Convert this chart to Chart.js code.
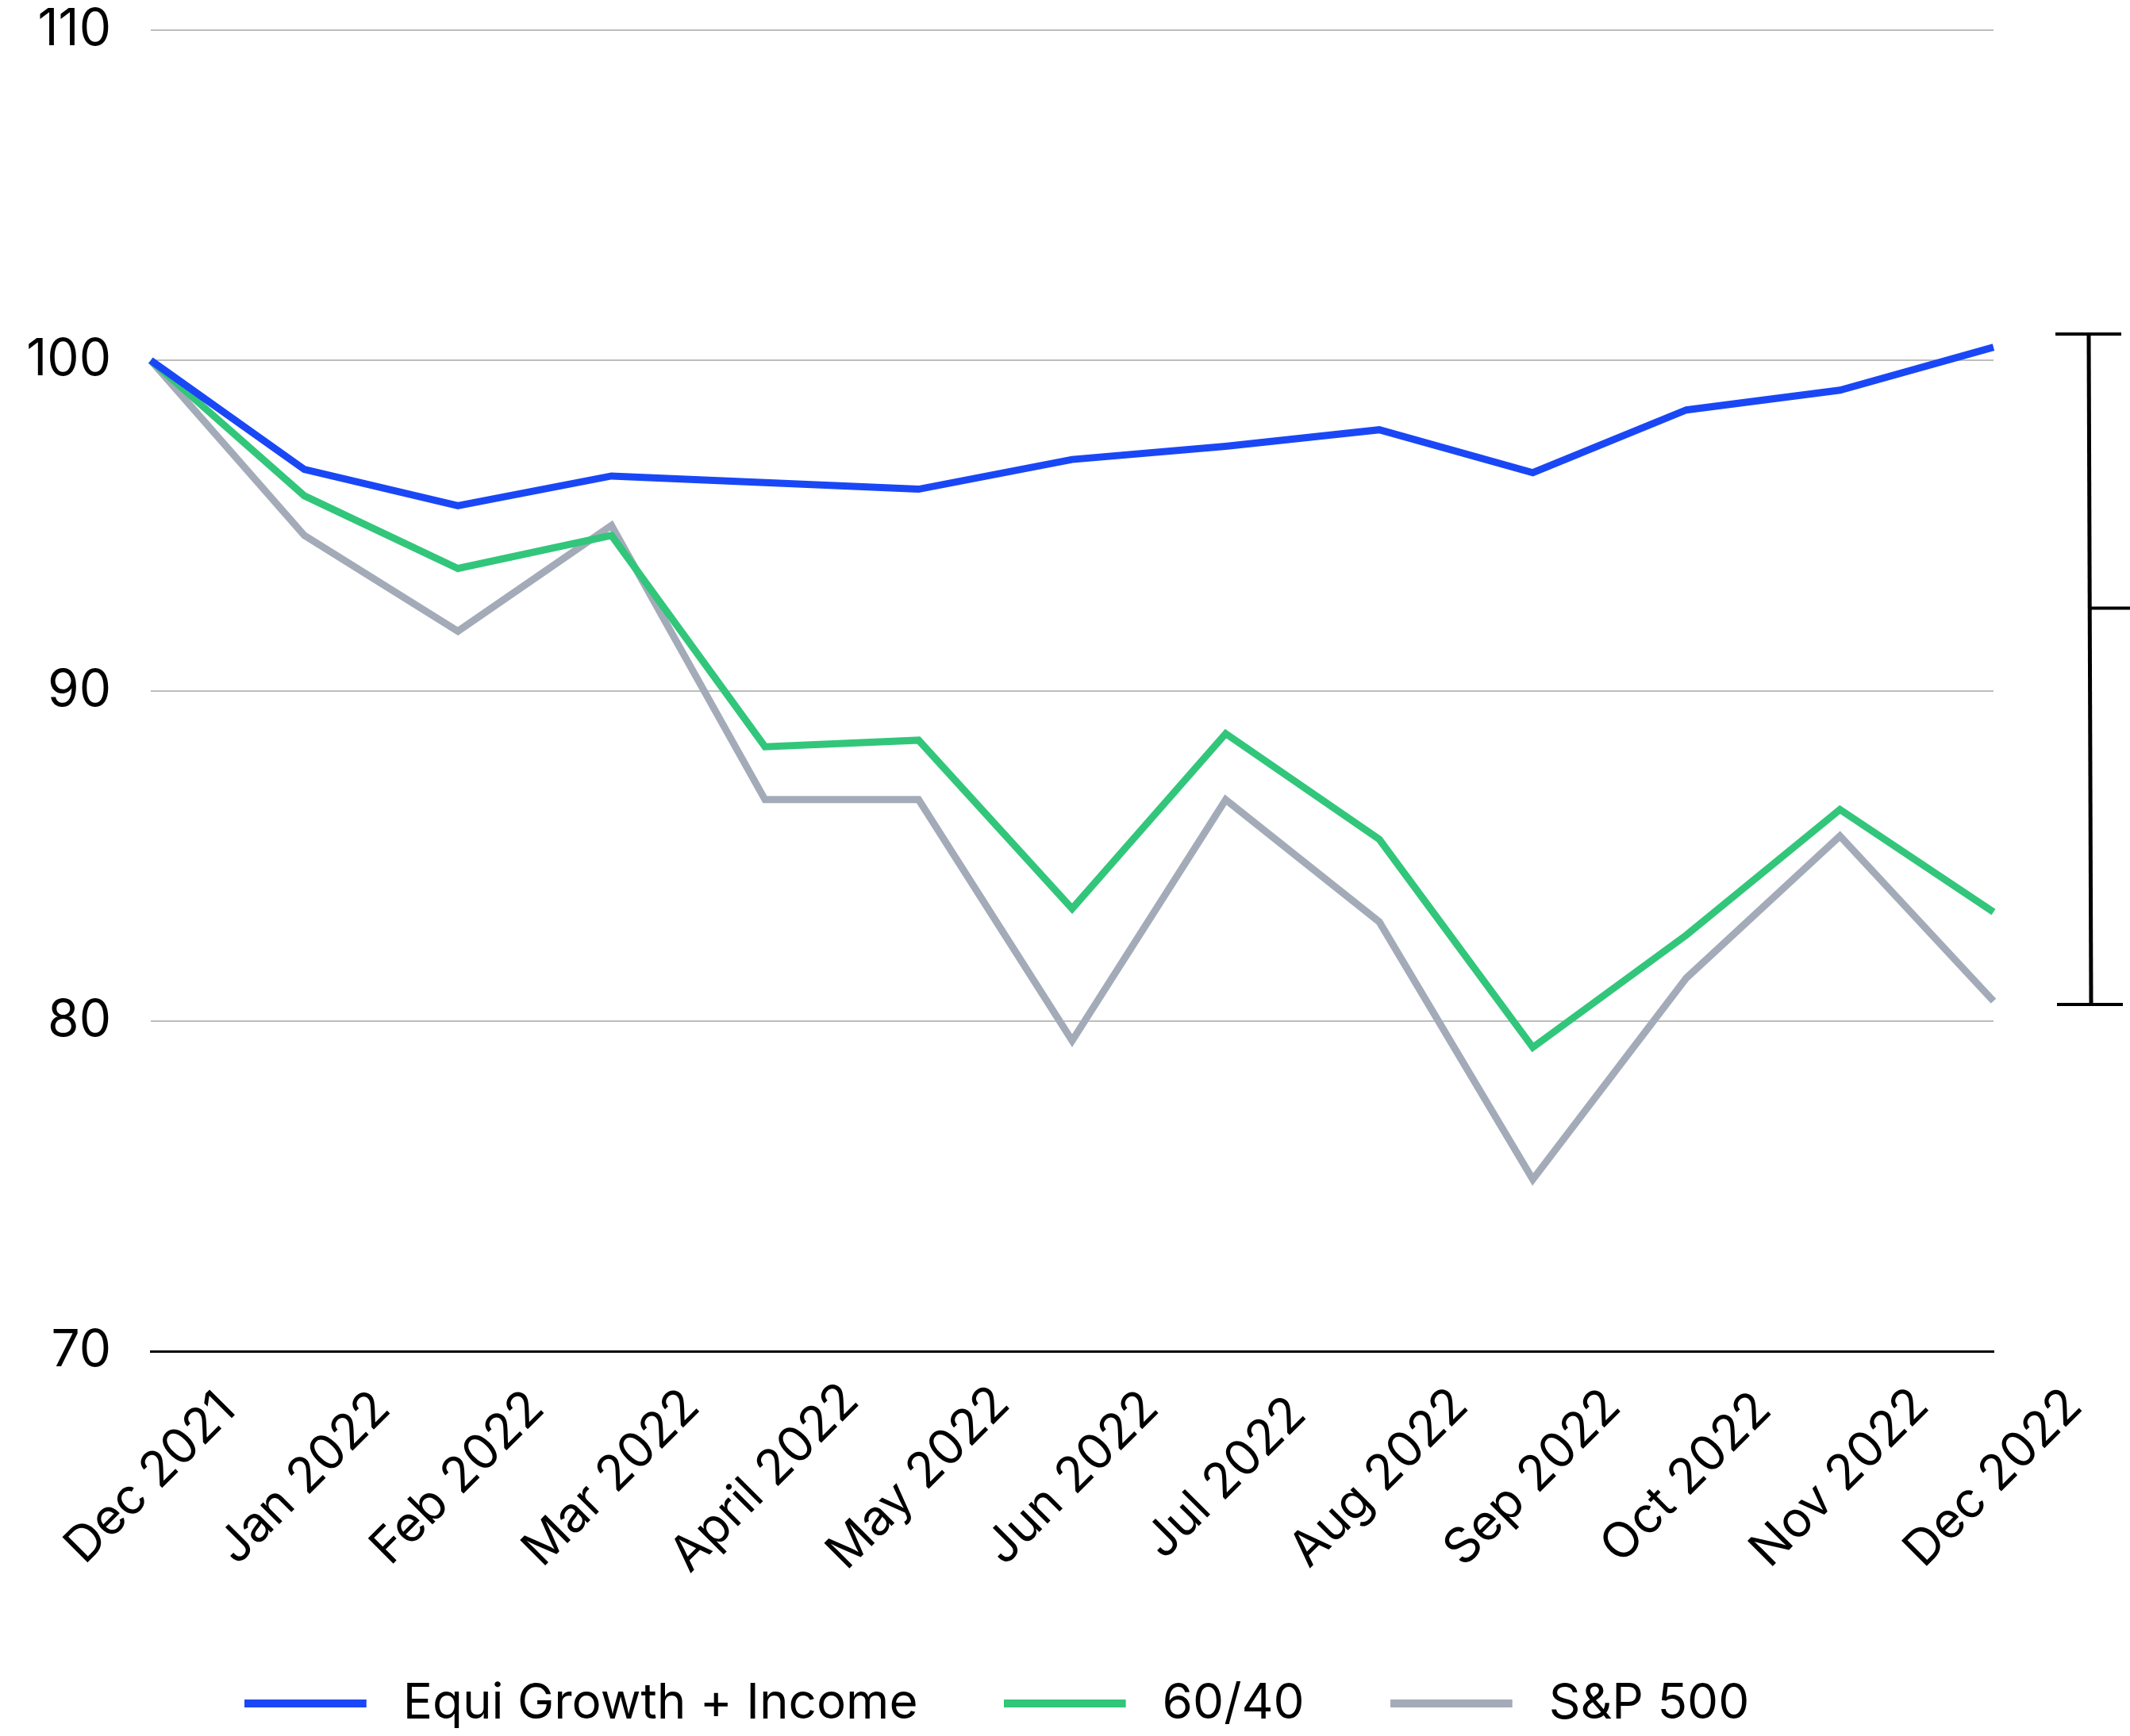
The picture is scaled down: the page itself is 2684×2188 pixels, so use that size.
<!DOCTYPE html>
<html>
<head>
<meta charset="utf-8">
<script src="https://cdn.jsdelivr.net/npm/chart.js@4.4.1/dist/chart.umd.min.js"></script>
<style>
  html, body { margin: 0; padding: 0; background: #fff; }
  #wrap { width: 2684px; height: 2188px; }
</style>
</head>
<body>
<div id="wrap"><canvas id="lineChart" width="2684" height="2188"></canvas></div>
<script>
const months = ['Dec 2021', 'Jan 2022', 'Feb 2022', 'Mar 2022', 'April 2022', 'May 2022', 'Jun 2022',
  'Jul 2022', 'Aug 2022', 'Sep 2022', 'Oct 2022', 'Nov 2022', 'Dec 2022'];
const equiGrowth = [100, 96.7, 95.6, 96.5, 96.3, 96.1, 97.0, 97.4, 97.9, 96.6, 98.5, 99.1, 100.4];
const sixtyForty = [100, 95.9, 93.7, 94.7, 88.3, 88.5, 83.4, 88.7, 85.5, 79.2, 82.6, 86.4, 83.3];
const sp500 = [100, 94.7, 91.8, 95.0, 86.7, 86.7, 79.4, 86.7, 83.0, 75.2, 81.3, 85.6, 80.6];
const yTicks = [70, 80, 90, 100, 110];
// bracket on the right: top, middle, bottom
const bracketValues = [100.8, 92.5, 80.5];

const FONT = 'Inter, "Open Sans", sans-serif';

// legend swatch: a thick line with some blank room after it
function swatch(color) {
  const c = document.createElement('canvas');
  c.width = 169;
  c.height = 10;
  const g = c.getContext('2d');
  g.fillStyle = color;
  g.fillRect(0, 0, 154, 10);
  return c;
}

// draws the rotated month labels centred on each tick
const monthLabels = {
  id: 'monthLabels',
  afterDraw(chart) {
    const xs = chart.scales.x;
    const ctx = chart.ctx;
    ctx.save();
    ctx.font = '62px ' + FONT;
    ctx.fillStyle = '#000';
    ctx.textAlign = 'center';
    ctx.textBaseline = 'middle';
    months.forEach((m, i) => {
      ctx.save();
      ctx.translate(xs.getPixelForTick(i), xs.top + 160);
      ctx.rotate(-Math.PI / 4);
      ctx.fillText(m, 0, 0);
      ctx.restore();
    });
    ctx.restore();
  }
};

const bracket = {
  id: 'bracket',
  afterDraw(chart) {
    const ys = chart.scales.y;
    const area = chart.chartArea;
    const ctx = chart.ctx;
    const [top, mid, bottom] = bracketValues.map(v => ys.getPixelForValue(v));
    const lx = area.right + 120;
    ctx.save();
    ctx.strokeStyle = '#000';
    ctx.lineWidth = 5;
    ctx.beginPath();
    ctx.moveTo(lx, top);
    ctx.lineTo(lx + 3, bottom);
    ctx.stroke();
    ctx.lineWidth = 4;
    ctx.beginPath();
    ctx.moveTo(area.right + 78, top);
    ctx.lineTo(area.right + 161, top);
    ctx.moveTo(area.right + 80, bottom);
    ctx.lineTo(area.right + 163, bottom);
    ctx.moveTo(lx + 1, mid);
    ctx.lineTo(chart.width, mid);
    ctx.stroke();
    ctx.restore();
  }
};

const chartLine = document.getElementById('lineChart');

const chartLineOptions = {
  type: 'line',
  data: {
    labels: months,
    datasets: [
      {
        label: 'Equi Growth + Income',
        data: equiGrowth,
        borderColor: '#1a47f6',
        backgroundColor: '#1a47f6',
      },
      {
        label: '60/40',
        data: sixtyForty,
        borderColor: '#32c67b',
        backgroundColor: '#32c67b',
      },
      {
        label: 'S&P 500',
        data: sp500,
        borderColor: '#a4abb8',
        backgroundColor: '#a4abb8',
      }
    ]
  },
  options: {
    responsive: false,
    animation: false,
    devicePixelRatio: 1,
    borderWidth: 9,
    tension: 0,
    pointRadius: 0,
    fill: false,
    layout: {
      padding: { top: 38, right: 172, bottom: 0, left: 0 }
    },
    scales: {
      x: {
        grid: { display: false },
        border: { display: true, color: '#000', width: 3 },
        ticks: { display: false },
        afterFit: (s) => { s.height = 305; }
      },
      y: {
        min: 70,
        max: 110,
        afterBuildTicks: (s) => { s.ticks = yTicks.map(v => ({ value: v })); },
        afterFit: (s) => {
          s.width = 190;
          s.paddingTop = 0;
          s.paddingBottom = 0;
        },
        border: { display: false },
        grid: {
          drawTicks: false,
          color: (c) => c.tick && c.tick.value === 70 ? '#000' : '#bdbdbd',
          lineWidth: (c) => c.tick && c.tick.value === 70 ? 3 : 2,
        },
        ticks: {
          padding: 50,
          color: '#000',
          font: { family: FONT, size: 64 }
        }
      }
    },
    plugins: {
      tooltip: { enabled: false },
      legend: {
        position: 'bottom',
        labels: {
          color: '#000',
          font: { family: FONT, size: 62 },
          usePointStyle: true,
          pointStyleWidth: 169,
          boxHeight: 10,
          padding: 108,
          generateLabels: (chart) => chart.data.datasets.map((ds, i) => ({
            text: ds.label,
            fillStyle: ds.borderColor,
            strokeStyle: ds.borderColor,
            pointStyle: swatch(ds.borderColor),
            lineWidth: 0,
            hidden: false,
            datasetIndex: i,
            fontColor: '#000'
          }))
        }
      }
    }
  },
  plugins: [monthLabels, bracket]
};

if (chartLine) {
  new Chart(chartLine, chartLineOptions);
}
</script>
</body>
</html>
